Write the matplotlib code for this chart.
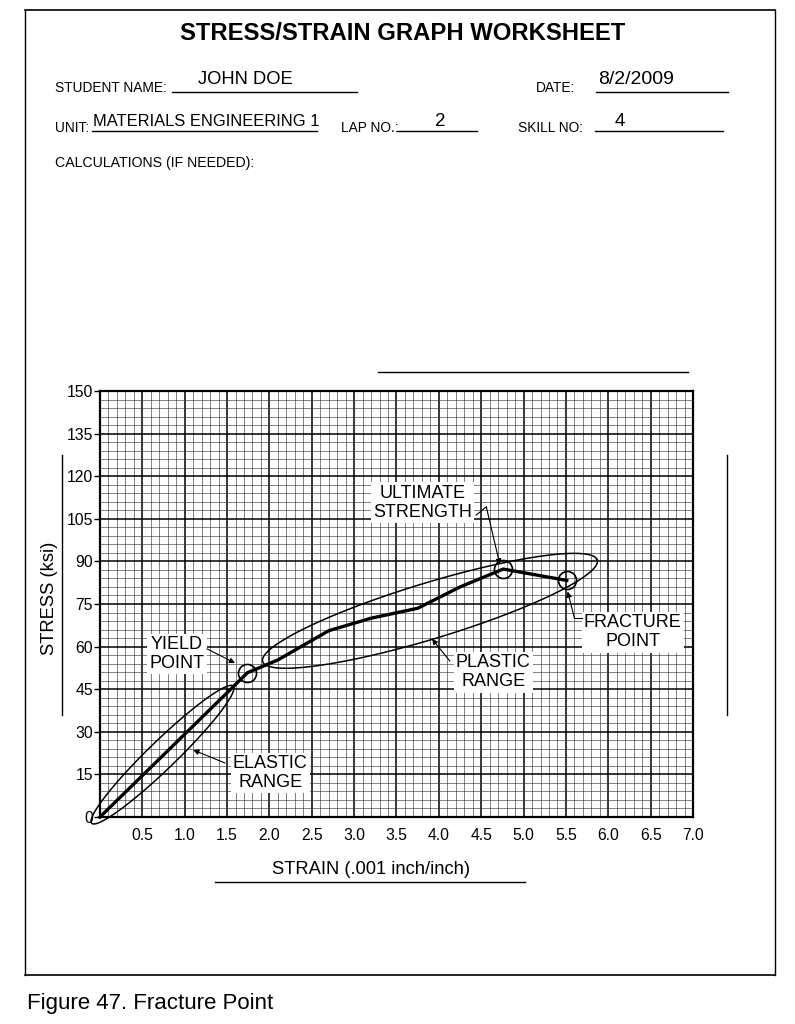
import numpy as np
import matplotlib
matplotlib.use("Agg")
import matplotlib.pyplot as plt
from matplotlib.ticker import MultipleLocator
from matplotlib.lines import Line2D

plt.rcParams['font.family'] = ['Liberation Sans', 'DejaVu Sans']

# ---- data ----
strain = [0.0, 1.55, 1.74, 2.1, 2.7, 3.2, 3.75, 4.25, 4.76, 5.51]
stress = [0.0, 45.2, 50.8, 55.3, 65.6, 70.0, 73.5, 81.0, 87.3, 83.3]

x_ticks = [0.5, 1.0, 1.5, 2.0, 2.5, 3.0, 3.5, 4.0, 4.5, 5.0, 5.5, 6.0, 6.5, 7.0]
x_tick_labels = ["0.5", "1.0", "1.5", "2.0", "2.5", "3.0", "3.5", "4.0", "4.5", "5.0", "5.5", "6.0", "6.5", "7.0"]
y_ticks = [0, 15, 30, 45, 60, 75, 90, 105, 120, 135, 150]

key_names = ["YIELD\nPOINT", "ULTIMATE\nSTRENGTH", "FRACTURE\nPOINT"]
key_strain = [1.738, 4.76, 5.51]
key_stress = [50.8, 87.3, 83.3]

elastic_ends = [(-0.098, -2.2), (1.574, 46.1)]
plastic_ends = [(1.92, 54.7), (5.87, 90.5)]

W, H = 795, 1024
fig = plt.figure(figsize=(W / 100, H / 100), dpi=100)

def P(x, y):
    return x / W, 1 - y / H

def hline(x0, x1, y, lw=1.0, color='black'):
    fig.add_artist(Line2D([x0 / W, x1 / W], [1 - y / H, 1 - y / H], lw=lw, color=color))

def vline(x, y0, y1, lw=1.0, color='black'):
    fig.add_artist(Line2D([x / W, x / W], [1 - y0 / H, 1 - y1 / H], lw=lw, color=color))

# page frame
hline(25, 775, 10, lw=1.2)
hline(25, 775, 975, lw=1.2)
vline(25, 10, 975, lw=1.0)
vline(775, 10, 975, lw=1.0)

# header
fig.text(*P(403, 33), "STRESS/STRAIN GRAPH WORKSHEET", ha='center', va='center',
         fontsize=17.2, fontweight='bold')
fig.text(*P(55, 88), "STUDENT NAME:", ha='left', va='center', fontsize=9.9)
hline(172, 357, 92)
fig.text(*P(198, 80), "JOHN DOE", ha='left', va='center', fontsize=13.2)
fig.text(*P(536, 88), "DATE:", ha='left', va='center', fontsize=9.9)
hline(596, 728, 92)
fig.text(*P(598, 80), "8/2/2009", ha='left', va='center', fontsize=14)
fig.text(*P(55, 128), "UNIT:", ha='left', va='center', fontsize=9.9)
hline(92, 317, 131)
fig.text(*P(93, 121), "MATERIALS ENGINEERING 1", ha='left', va='center', fontsize=11.9)
fig.text(*P(341, 128), "LAP NO.:", ha='left', va='center', fontsize=9.9)
hline(397, 477, 131)
fig.text(*P(440, 121), "2", ha='center', va='center', fontsize=13.5)
fig.text(*P(518, 128), "SKILL NO:", ha='left', va='center', fontsize=9.9)
hline(595, 723, 131)
fig.text(*P(620, 121), "4", ha='center', va='center', fontsize=13.5)
fig.text(*P(55, 163), "CALCULATIONS (IF NEEDED):", ha='left', va='center', fontsize=10.2)

hline(378, 688, 372, lw=1.0)
vline(62, 455, 715, lw=1.0)
vline(727, 455, 715, lw=1.0)

fig.text(*P(50, 598), "STRESS (ksi)", ha='center', va='center', rotation=90, fontsize=13.2)
fig.text(*P(371, 870), "STRAIN (.001 inch/inch)", ha='center', va='center', fontsize=13.2)
hline(215, 525, 882)
fig.text(*P(27, 1003), "Figure 47. Fracture Point", ha='left', va='center', fontsize=16)

# ---- chart ----
ax = fig.add_axes([100 / W, 1 - 817 / H, (693 - 100) / W, (817 - 391) / H])
ax.set_xlim(0, 7)
ax.set_ylim(0, 150)
ax.set_xticks(x_ticks)
ax.set_xticklabels(x_tick_labels)
ax.set_yticks(y_ticks)
ax.xaxis.set_minor_locator(MultipleLocator(0.1))
ax.yaxis.set_minor_locator(MultipleLocator(3))
ax.tick_params(axis='x', which='major', length=0, pad=8, labelsize=11.3)
ax.tick_params(axis='y', which='major', length=4, width=1, pad=1, labelsize=11.3)
ax.tick_params(which='minor', length=0)
ax.grid(which='minor', color='#3a3a3a', lw=0.45)
ax.grid(which='major', color='black', lw=1.1)
ax.set_axisbelow(True)
for s in ax.spines.values():
    s.set_linewidth(1.6)

def ellipse_pts(p1, p2, half_w, n=300):
    T = ax.transData
    a = T.transform(p1)
    b = T.transform(p2)
    c = (a + b) / 2
    u = (b - a) / 2
    L = np.hypot(*u)
    nv = np.array([-u[1], u[0]]) / L * half_w
    t = np.linspace(0, 2 * np.pi, n)
    pts = c + np.outer(np.cos(t), u) + np.outer(np.sin(t), nv)
    return T.inverted().transform(pts)

e1 = ellipse_pts(*elastic_ends, 14)
e2 = ellipse_pts(*plastic_ends, 28)
ax.plot(e1[:, 0], e1[:, 1], color='black', lw=1.1, clip_on=False, zorder=4)
ax.plot(e2[:, 0], e2[:, 1], color='black', lw=1.1, clip_on=False, zorder=4)

ax.plot(strain, stress, color='black', lw=2.4, zorder=5, clip_on=False)
ax.plot(key_strain, key_stress, linestyle='none', marker='o', markersize=13,
        markerfacecolor='none', markeredgecolor='black', markeredgewidth=1.2, zorder=6)

box = dict(facecolor='white', edgecolor='none', pad=1.5)
arrow = dict(arrowstyle='-|>', color='black', lw=0.8, mutation_scale=8, shrinkA=0, shrinkB=0)
tfs = 13
ls = 1.2

ax.text(0.91, 57.4, "YIELD\nPOINT", ha='center', va='center', fontsize=tfs, bbox=box,
        linespacing=ls, zorder=7)
ax.annotate('', xy=(1.594, 54.2), xytext=(1.263, 59.2), arrowprops=arrow, zorder=7)

ax.text(3.81, 110.6, "ULTIMATE\nSTRENGTH", ha='center', va='center', fontsize=tfs, bbox=box,
        linespacing=ls, zorder=7)
ax.plot([4.44, 4.56], [106.3, 109.2], color='black', lw=0.8, zorder=7)
ax.annotate('', xy=(4.72, 88.9), xytext=(4.56, 109.2), arrowprops=arrow, zorder=7)

ax.text(2.01, 15.5, "ELASTIC\nRANGE", ha='center', va='center', fontsize=tfs, bbox=box,
        linespacing=ls, zorder=7)
ax.annotate('', xy=(1.10, 23.6), xytext=(1.476, 19.0), arrowprops=arrow, zorder=7)

ax.text(4.64, 51.0, "PLASTIC\nRANGE", ha='center', va='center', fontsize=tfs, bbox=box,
        linespacing=ls, zorder=7)
ax.annotate('', xy=(3.92, 62.7), xytext=(4.13, 54.9), arrowprops=arrow, zorder=7)

ax.text(6.29, 65.1, "FRACTURE\nPOINT", ha='center', va='center', fontsize=tfs, bbox=box,
        linespacing=ls, zorder=7)
ax.plot([5.69, 5.6], [70.1, 70.1], color='black', lw=0.8, zorder=7)
ax.annotate('', xy=(5.52, 79.4), xytext=(5.6, 70.1), arrowprops=arrow, zorder=7)

fig.savefig("out.png", dpi=100)
